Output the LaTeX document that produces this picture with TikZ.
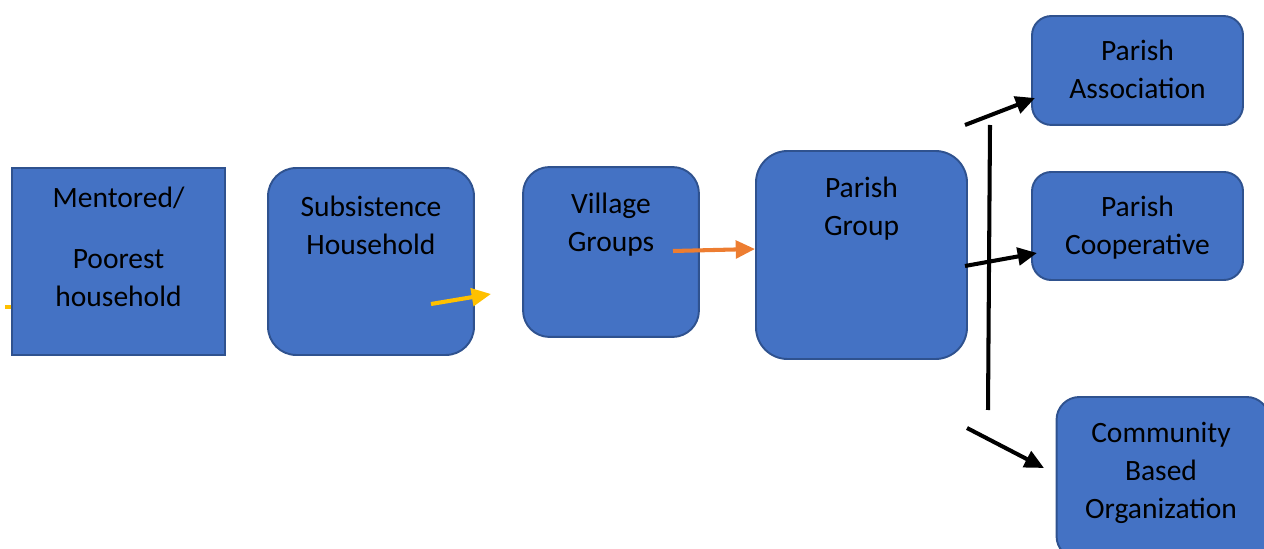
\documentclass[tikz,border=0pt]{standalone}
\usepackage{fontspec}
\setmainfont{Carlito}
\usetikzlibrary{arrows.meta,calc,positioning}
\definecolor{boxblue}{HTML}{4472C4}
\definecolor{boxline}{HTML}{2F528F}
\definecolor{arryellow}{HTML}{FFC000}
\definecolor{arrorange}{HTML}{ED7D31}

\begin{document}
\begin{tikzpicture}[x=0.02cm, y=0.02cm, >={Triangle[length=11pt, width=10pt]},
      box/.style={draw=boxline, fill=boxblue, line width=1.1pt, inner sep=0pt, rounded corners=15pt},
      smallbox/.style={box, rounded corners=11pt, minimum width=120.1pt},
      sqbox/.style={box, sharp corners},
      lbl/.style={anchor=north, align=center, inner sep=0pt, font=\fontsize{16.8}{21.5}\selectfont},
      link/.style={->, line width=2.3pt}]
      \useasboundingbox (0,0) rectangle (1264,548);
      % stub behind the first box
      \coordinate (ystub) at (5,241);
      \draw[arryellow, line width=2.3pt] (ystub) -- (12,241);
      % Boxes
      \node[sqbox, minimum width=121.2pt, minimum height=106.4pt] (mentored) at (118.5,286.5) {};
      \node[box, minimum width=117.2pt, minimum height=106.4pt, rounded corners=16pt] (subs) at (371,286.5) {};
      \node[box, minimum width=100.1pt, minimum height=96.7pt] (village) at (611,296) {};
      \node[box, minimum width=120.1pt, minimum height=118.4pt, rounded corners=18pt] (pgroup) at (861.5,293) {};
      \node[smallbox, minimum height=62pt] (passoc) at (1137.5,477.5) {};
      \node[smallbox, minimum height=61.5pt] (pcoop) at (1137.5,322) {};
      \node[box, minimum width=121.2pt, minimum height=92.2pt, rounded corners=13pt] (cbo) at (1163,70) {};
      % Texts
      \node[lbl] (mentoredtxt) at ($(mentored.north)+(0,-20)$) {Mentored/\\[13pt]Poorest\\household};
      \node[lbl] (substxt) at ($(subs.north)+(0,-29)$) {Subsistence\\Household};
      \node[lbl] (villagetxt) at ($(village.north)+(0,-27)$) {Village\\Groups};
      \node[lbl] (pgrouptxt) at ($(pgroup.north)+(0,-27)$) {Parish\\Group};
      \node[lbl] (passoctxt) at ($(passoc.north)+(0,-25)$) {Parish\\Association};
      \node[lbl] (pcooptxt) at ($(pcoop.north)+(0,-25)$) {Parish\\Cooperative};
      \node[lbl] (cbotxt) at ($(cbo.north)+(-2,-26)$) {Community\\Based\\Organization};
      % Arrows
      \coordinate (ya) at (431,244);
      \coordinate (yb) at (491,254);
      \draw[link, arryellow] (ya) -- (yb);
      \coordinate (oa) at (673,297);
      \draw[link, arrorange] (oa) -- (pgroup.west |- 0,299);
      \coordinate (ka) at (965,423);
      \draw[link] (ka) -- (1035,450);
      \coordinate (kb) at (965,282);
      \draw[link] (kb) -- (1037,295);
      \coordinate (kc) at (967,120);
      \draw[link] (kc) -- (1044,80);
      % vertical bar
      \coordinate (vtop) at (990,423);
      \coordinate (vbot) at (988,138);
      \draw[line width=2.3pt] (vtop) -- (vbot);
\end{tikzpicture}
\end{document}
